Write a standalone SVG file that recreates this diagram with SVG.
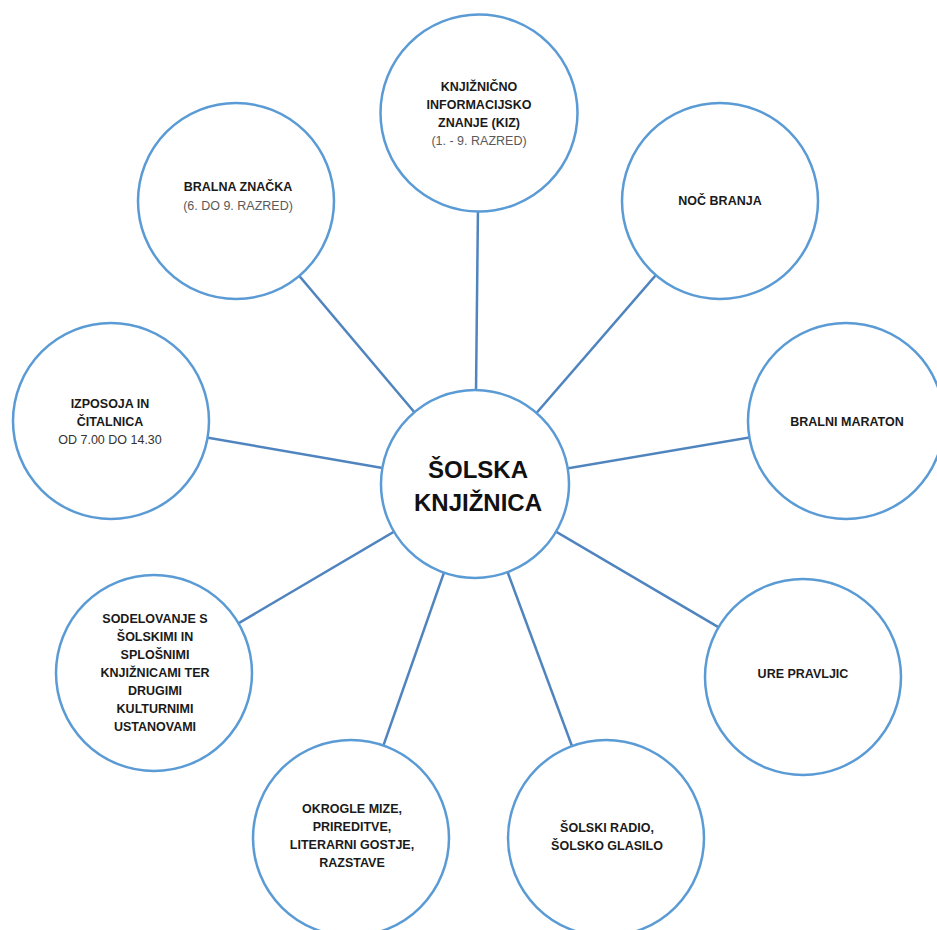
<svg xmlns="http://www.w3.org/2000/svg" width="937" height="930" viewBox="0 0 937 930">
<style>
.c{fill:#fff;stroke:#5b9bd5;stroke-width:2.5}
.l{stroke:#4f84bf;stroke-width:2.5;fill:none}
text{font-family:"Liberation Sans",Arial,sans-serif;text-anchor:middle}
.b{font-size:12.5px;font-weight:bold;fill:#1a1a1a}
.r{font-size:12.5px;fill:#595959}
.m{font-size:24px;font-weight:bold;fill:#111}
</style>
<rect width="937" height="930" fill="#fff"/>
<g id="connectors">
<line class="l" x1="475" y1="484" x2="479" y2="113"/>
<line class="l" x1="475" y1="484" x2="236" y2="201"/>
<line class="l" x1="475" y1="484" x2="720" y2="201"/>
<line class="l" x1="475" y1="484" x2="111" y2="421"/>
<line class="l" x1="475" y1="484" x2="846" y2="421"/>
<line class="l" x1="475" y1="484" x2="154" y2="673"/>
<line class="l" x1="475" y1="484" x2="803" y2="677"/>
<line class="l" x1="475" y1="484" x2="351" y2="838"/>
<line class="l" x1="475" y1="484" x2="606" y2="838"/>
</g>
<g id="center">
<circle class="c" cx="475" cy="484" r="94"/>
<text class="m" x="478" y="478">ŠOLSKA</text>
<text class="m" x="478" y="511">KNJIŽNICA</text>
</g>
<g id="kiz">
<circle class="c" cx="479" cy="113" r="98.5"/>
<text class="b" x="479" y="91">KNJIŽNIČNO</text>
<text class="b" x="479" y="109">INFORMACIJSKO</text>
<text class="b" x="479" y="127">ZNANJE (KIZ)</text>
<text class="r" x="479" y="145">(1. - 9. RAZRED)</text>
</g>
<g id="bralna-znacka">
<circle class="c" cx="236" cy="201" r="98"/>
<text class="b" x="238" y="191">BRALNA ZNAČKA</text>
<text class="r" x="238" y="210">(6. DO 9. RAZRED)</text>
</g>
<g id="noc-branja">
<circle class="c" cx="720" cy="201" r="98"/>
<text class="b" x="720" y="205">NOČ BRANJA</text>
</g>
<g id="izposoja">
<circle class="c" cx="111" cy="421" r="98"/>
<text class="b" x="110" y="408">IZPOSOJA IN</text>
<text class="b" x="110" y="426">ČITALNICA</text>
<text class="r" x="110" y="444" style="fill:#333">OD 7.00 DO 14.30</text>
</g>
<g id="bralni-maraton">
<circle class="c" cx="846" cy="421" r="98"/>
<text class="b" x="847" y="426">BRALNI MARATON</text>
</g>
<g id="sodelovanje">
<circle class="c" cx="154" cy="673" r="98"/>
<text class="b" x="155" y="623">SODELOVANJE S</text>
<text class="b" x="155" y="641">ŠOLSKIMI IN</text>
<text class="b" x="155" y="659">SPLOŠNIMI</text>
<text class="b" x="155" y="677">KNJIŽNICAMI TER</text>
<text class="b" x="155" y="695">DRUGIMI</text>
<text class="b" x="155" y="713">KULTURNIMI</text>
<text class="b" x="155" y="731">USTANOVAMI</text>
</g>
<g id="ure-pravljic">
<circle class="c" cx="803" cy="677" r="98"/>
<text class="b" x="803" y="678">URE PRAVLJIC</text>
</g>
<g id="okrogle-mize">
<circle class="c" cx="351" cy="838" r="98"/>
<text class="b" x="352" y="813">OKROGLE MIZE,</text>
<text class="b" x="352" y="831">PRIREDITVE,</text>
<text class="b" x="352" y="849">LITERARNI GOSTJE,</text>
<text class="b" x="352" y="867">RAZSTAVE</text>
</g>
<g id="solski-radio">
<circle class="c" cx="606" cy="838" r="98"/>
<text class="b" x="607" y="832">ŠOLSKI RADIO,</text>
<text class="b" x="607" y="850">ŠOLSKO GLASILO</text>
</g>
</svg>
